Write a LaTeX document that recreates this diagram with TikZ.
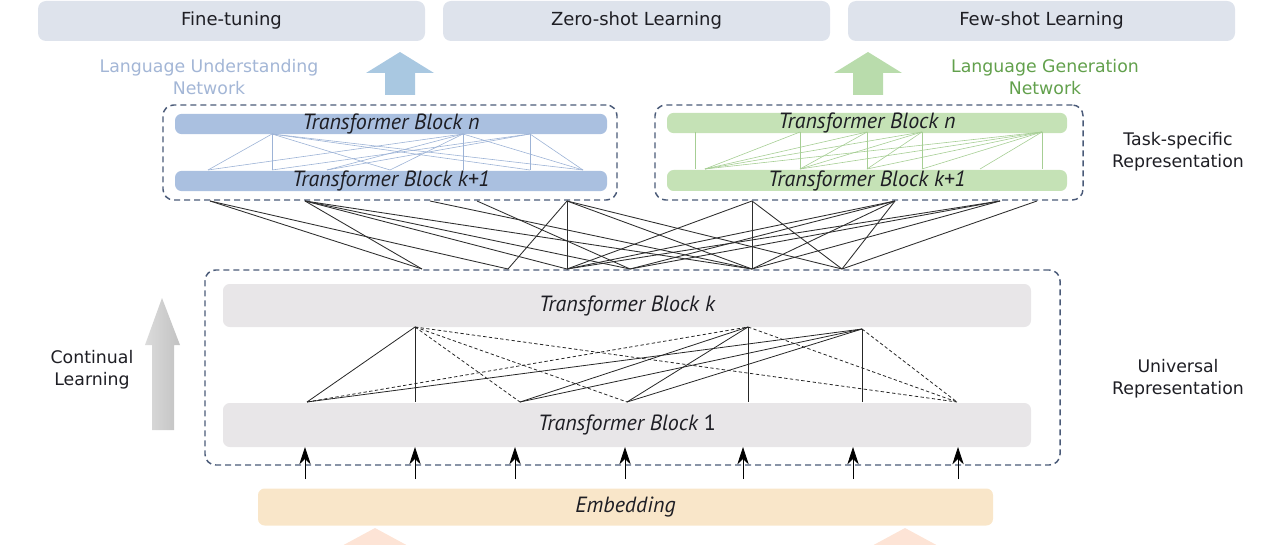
\documentclass[tikz,border=0pt]{standalone}
\usepackage{fontspec}
\setmainfont{DejaVu Sans}
\newfontfamily\tbfont{PT Sans}
\usetikzlibrary{arrows.meta,calc}
\definecolor{topc}{HTML}{DEE3EC}
\definecolor{bluebarc}{HTML}{AAC0E0}
\definecolor{greenbarc}{HTML}{C5E2B6}
\definecolor{greybarc}{HTML}{E8E6E8}
\definecolor{embc}{HTML}{F9E6C9}
\definecolor{dashc}{HTML}{4A5A78}
\definecolor{bluetxt}{HTML}{A3B6D6}
\definecolor{greentxt}{HTML}{62A04C}
\definecolor{bluearr}{HTML}{A9C8E1}
\definecolor{greenarr}{HTML}{B9DCAC}
\definecolor{peach}{HTML}{FDE4D6}
\definecolor{bluelin}{HTML}{9DB3D6}
\definecolor{greenlin}{HTML}{A6CE94}
\definecolor{fanc}{HTML}{2E2E2E}
\definecolor{txtc}{HTML}{1E1E24}
\begin{document}
\begin{tikzpicture}[x=0.75pt,y=-0.75pt,
  sz/.style 2 args={minimum width=#1*0.75pt,minimum height=#2*0.75pt},
  topbox/.style={fill=topc,rounded corners=6pt,inner sep=0pt,font=\fontsize{13.5}{15}\selectfont,text=txtc},
  dbox/.style={draw=dashc,line width=1.1pt,dash pattern=on 4.5pt off 3pt,rounded corners=8pt,inner sep=0pt},
  bar/.style={rounded corners=5pt,inner sep=0pt,font=\tbfont\itshape\fontsize{16.5}{18}\selectfont,text=txtc},
  lab/.style={align=center,font=\fontsize{13}{16.5}\selectfont,text=txtc},
  fan/.style={draw=fanc,line width=0.65pt},
  sol/.style={draw=black!85,line width=0.6pt},
  dsh/.style={draw=black!85,line width=0.6pt,dash pattern=on 2.5pt off 1.8pt},
  bl/.style={draw=bluelin,line width=0.45pt},
  gl/.style={draw=greenlin,line width=0.45pt},
  uparr/.style={draw=black,line width=0.6pt,-{Stealth[length=13pt,width=8.5pt,inset=4pt]}}
]
\useasboundingbox (0,0) rectangle (1280,545);

% top task boxes
\node[topbox,sz={387}{40}] (ft) at (231.5,21) {Fine-tuning};
\node[topbox,sz={387}{40}] (zs) at (636.5,21) {Zero-shot Learning};
\node[topbox,sz={387}{40}] (fs) at (1041.5,21) {Few-shot Learning};

% network labels
\node[lab,text=bluetxt] (lun) at (209,77) {Language Understanding\\Network};
\node[lab,text=greentxt] (lgn) at (1045,77) {Language Generation\\Network};

% big arrows
\fill[bluearr] (385,95) -- (385,73) -- (366,73) -- (400,52) -- (434,73) -- (415,73) -- (415,95) -- cycle;
\fill[greenarr] (853,95) -- (853,73) -- (834,73) -- (868,52) -- (902,73) -- (883,73) -- (883,95) -- cycle;

% task-specific dashed boxes
\node[dbox,sz={454}{95}] (lbox) at (390,152.5) {};
\node[dbox,sz={428}{95}] (rbox) at (869,152.5) {};

\node[bar,fill=bluebarc,sz={432}{20}] (ln) at (391,124) {Transformer Block \textit{n}};
\node[bar,fill=bluebarc,sz={432}{20}] (lk) at (391,181) {Transformer Block \textit{k}+1};
\node[bar,fill=greenbarc,sz={400}{20}] (gn) at (867,123) {Transformer Block \textit{n}};
\node[bar,fill=greenbarc,sz={400}{21}] (gk) at (867,180.5) {Transformer Block \textit{k}+1};

\node[lab] (tsr) at (1178,152) {Task-specific\\Representation};
\node[lab] (ur) at (1178,379) {Universal\\Representation};
\node[lab] (cl) at (92,370) {Continual\\Learning};

% blue inner lines
\foreach \n/\x in {1/272,2/463,3/530} \coordinate (bt\n) at (\x,134);
\foreach \n/\x in {1/208,2/272,3/327,4/390,5/463,6/530,7/583} \coordinate (bb\n) at (\x,170);
\foreach \a/\b in {1/1,1/2,1/4,1/6,2/1,2/3,2/4,2/5,2/7,3/2,3/3,3/6,3/7,1/7}
  \draw[bl] (bt\a) -- (bb\b);

% green inner lines
\foreach \n/\x in {1/695,2/800,3/867,4/922,5/1042} \coordinate (gt\n) at (\x,132);
\foreach \n/\x in {1/695,2/705,3/800,4/867,5/922,6/1042,7/980} \coordinate (gb\n) at (\x,169);
\foreach \a/\b in {1/1,2/3,3/4,4/5,5/6,2/2,4/2,5/2,3/3,4/3,5/3,4/4,5/4,5/5,5/7,3/2}
  \draw[gl] (gt\a) -- (gb\b);

% universal dashed box
\node[dbox,sz={855}{195}] (ubox) at (632.5,367.5) {};
\node[bar,fill=greybarc,sz={808}{43}] (tbk) at (627,305.5) {Transformer Block \textit{k}};
\node[bar,fill=greybarc,sz={808}{44}] (tb1) at (627,425) {Transformer Block {\upshape 1}};

% fan lines between task and universal
\foreach \n/\x in {1/210,2/305,3/430,4/477,5/567,6/752,7/895,8/1000,9/1037} \coordinate (T\n) at (\x,201);
\foreach \n/\x in {1/422,2/508,3/567,4/630,5/752,6/842} \coordinate (F\n) at (\x,269);
\foreach \a/\b in {1/1,1/2,2/1,2/3,2/4,2/5,3/5,4/4,5/2,5/3,5/5,5/6,6/3,6/5,6/6,7/3,7/4,7/5,7/6,8/3,8/4,8/5,9/6}
  \draw[fan] (T\a) -- (F\b);

% universal inner lines
\coordinate (A) at (415,327);
\coordinate (B) at (748,327);
\coordinate (C) at (862,329);
\foreach \n/\x in {1/307,2/415,3/520,4/627,5/748,6/862,7/957} \coordinate (p\n) at (\x,402);
\draw[sol] (A) -- (p1);
\draw[sol] (A) -- (p2);
\draw[sol] (p1) -- (C);
\draw[sol] (p3) -- (B);
\draw[sol] (p3) -- (C);
\draw[sol] (p4) -- (B);
\draw[sol] (p4) -- (C);
\draw[sol] (B) -- (p5);
\draw[sol] (C) -- (p6);
\draw[dsh] (A) -- (p3);
\draw[dsh] (A) -- (p4);
\draw[dsh] (A) -- (p7);
\draw[dsh] (p1) -- (B);
\draw[dsh] (B) -- (p7);
\draw[dsh] (C) -- (p7);

% continual learning arrow
\shade[left color=black!14,right color=black!24] (152,430) -- (152,345) -- (145,345) -- (162,298) -- (180,345) -- (174,345) -- (174,430) -- cycle;

% embedding
\node[bar,fill=embc,sz={735}{37}] (emb) at (625.5,507) {Embedding};

% up arrows
\foreach \n/\x in {1/305,2/415,3/515,4/625,5/743,6/853,7/958} {
  \coordinate (ua\n) at (\x,479);
  \coordinate (ub\n) at (\x,447);
  \draw[uparr] (ua\n) -- (ub\n);
}

% bottom peach arrow tips
\fill[peach] (375,528) -- (338,548) -- (412,548) -- cycle;
\fill[peach] (905,528) -- (868,548) -- (942,548) -- cycle;
\end{tikzpicture}
\end{document}
